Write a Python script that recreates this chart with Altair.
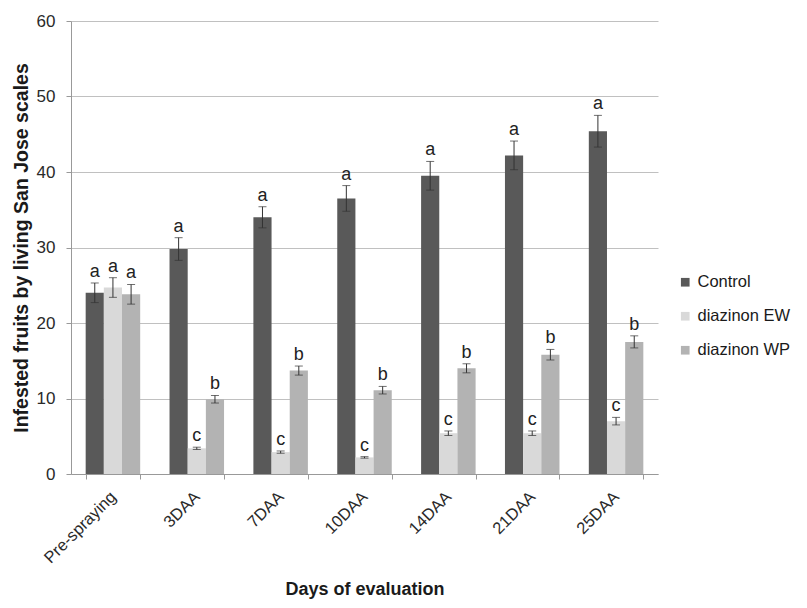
import altair as alt
import pandas as pd

days = ["Pre-spraying", "3DAA", "7DAA", "10DAA", "14DAA", "21DAA", "25DAA"]
treatments = ["Control", "diazinon EW", "diazinon WP"]

control = [24.0, 29.8, 34.0, 36.5, 39.5, 42.2, 45.4]
control_err = [1.3, 1.5, 1.4, 1.7, 1.9, 1.9, 2.1]
control_let = ["a", "a", "a", "a", "a", "a", "a"]

ew = [24.7, 3.4, 2.9, 2.2, 5.4, 5.4, 7.0]
ew_err = [1.3, 0.15, 0.15, 0.1, 0.3, 0.3, 0.5]
ew_let = ["a", "c", "c", "c", "c", "c", "c"]

wp = [23.8, 9.9, 13.7, 11.1, 14.0, 15.8, 17.5]
wp_err = [1.3, 0.5, 0.6, 0.5, 0.6, 0.7, 0.8]
wp_let = ["a", "b", "b", "b", "b", "b", "b"]

colors = ["#595959", "#d9d9d9", "#b3b3b3"]

rows = []
for t, vals, errs, lets in [
    ("Control", control, control_err, control_let),
    ("diazinon EW", ew, ew_err, ew_let),
    ("diazinon WP", wp, wp_err, wp_let),
]:
    for d, v, e, l in zip(days, vals, errs, lets):
        rows.append({"day": d, "treatment": t, "value": v,
                     "lo": v - e, "hi": v + e, "letter": l})
df = pd.DataFrame(rows)

FONT = "Liberation Sans"

x_enc = alt.X("day:N", sort=days, title="Days of evaluation",
              scale=alt.Scale(paddingInner=0.35, paddingOuter=0.175),
              axis=alt.Axis(labelAngle=-45, labelAlign="right", labelBaseline="middle",
                            labelFontSize=16.5, labelColor="#2a2a2a", labelPadding=15,
                            tickBand="extent", tickSize=5, tickColor="#999999",
                            domainColor="#999999", titleFontSize=18,
                            titleFontWeight="bold", titleColor="#1a1a1a",
                            titleBaseline="middle", titleY=115, grid=False))
xo = alt.XOffset("treatment:N", sort=treatments)

base = alt.Chart(df)

bars = base.mark_bar().encode(
    x=x_enc,
    xOffset=xo,
    y=alt.Y("value:Q", title="Infested fruits by living San Jose scales",
            scale=alt.Scale(domain=[0, 60], nice=False),
            axis=alt.Axis(values=[0, 10, 20, 30, 40, 50, 60], labelFontSize=17,
                          labelColor="#2a2a2a", tickSize=5, tickColor="#999999",
                          domainColor="#999999", gridColor="#c0c0c0",
                          titleFontSize=19.5, titleFontWeight="bold",
                          titleColor="#1a1a1a", titlePadding=5, labelPadding=11)),
    color=alt.Color("treatment:N", sort=treatments,
                    scale=alt.Scale(domain=treatments, range=colors),
                    legend=alt.Legend(title=None, orient="none", legendX=606, legendY=253,
                                      symbolType="square", symbolSize=75,
                                      symbolStrokeWidth=0, labelFontSize=16.5,
                                      labelColor="#1a1a1a", rowPadding=17,
                                      labelOffset=4)),
)

rules = base.mark_rule(color="#333333", strokeWidth=1).encode(
    x=alt.X("day:N", sort=days), xOffset=xo, y="lo:Q", y2="hi:Q")

cap_lo = base.mark_tick(color="#333333", orient="horizontal", size=8, thickness=1).encode(
    x=alt.X("day:N", sort=days), xOffset=xo, y="lo:Q")
cap_hi = base.mark_tick(color="#333333", orient="horizontal", size=8, thickness=1).encode(
    x=alt.X("day:N", sort=days), xOffset=xo, y="hi:Q")

letters = base.mark_text(fontSize=18, color="#222222", baseline="bottom", dy=-2).encode(
    x=alt.X("day:N", sort=days), xOffset=xo, y="hi:Q", text="letter:N")

chart = alt.layer(bars, rules, cap_lo, cap_hi, letters).properties(
    width=587, height=453,
    autosize=alt.AutoSizeParams(type="none"),
    padding={"left": 63, "top": 13, "right": 141, "bottom": 126},
).configure(font=FONT).configure_view(strokeWidth=0, strokeOpacity=0)

chart.save("out.html", embed_options={"renderer": "svg", "actions": False})
